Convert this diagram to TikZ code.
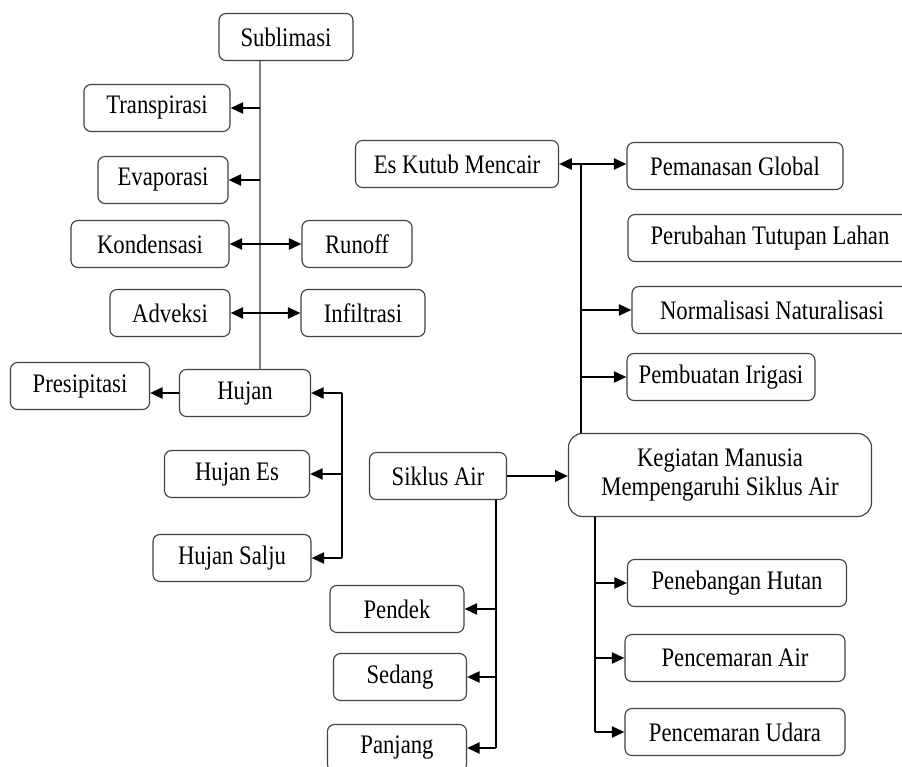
\documentclass[tikz,border=0pt]{standalone}
\usepackage{fontspec}
\setmainfont[FakeStretch=0.85]{Liberation Serif}
\usetikzlibrary{arrows.meta}

\begin{document}
\begin{tikzpicture}[x=0.025cm,y=-0.025cm,
    box/.style={draw=black!75,line width=0.8pt,rounded corners=5pt,minimum height=1.175cm,
      inner sep=0pt,font=\fontsize{19}{21}\selectfont},
    link/.style={line width=1.4pt},
    >={Triangle[length=9pt,width=8pt]}]
      \useasboundingbox (0,0) rectangle (902,767);

      \node[box,minimum width=3.35cm] (sub) at (286,37) {Sublimasi};
      \node[box,minimum width=3.65cm] (trans) at (157,108) {Transpirasi};
      \node[box,minimum width=3.25cm] (evap) at (163,180) {Evaporasi};
      \node[box,minimum width=3.95cm] (kond) at (150,244) {Kondensasi};
      \node[box,minimum width=2.75cm] (runoff) at (357,244) {Runoff};
      \node[box,minimum width=3cm] (adv) at (170,313) {Adveksi};
      \node[box,minimum width=3.1cm] (infil) at (363,313) {Infiltrasi};
      \node[box,minimum width=3.475cm] (pres) at (80,386) {Presipitasi};
      \node[box,minimum width=3.275cm] (hujan) at (245,393) {Hujan};
      \node[box,minimum width=3.625cm] (hujanes) at (237,474) {Hujan Es};
      \node[box,minimum width=3.95cm] (salju) at (232,558) {Hujan Salju};

      \node[box,minimum width=3.425cm] (siklus) at (438,476) {Siklus Air};
      \node[box,minimum width=3.35cm] (pendek) at (397,609) {Pendek};
      \node[box,minimum width=3.325cm] (sedang) at (400,677) {Sedang};
      \node[box,minimum width=3.475cm] (panjang) at (397,748) {Panjang};

      \node[box,minimum width=7.575cm,minimum height=2.075cm,rounded corners=10pt,align=center] (keg) at (720,475)
        {Kegiatan Manusia\\Mempengaruhi Siklus Air};

      \node[box,minimum width=5.075cm] (es) at (457,164) {Es Kutub Mencair};
      \node[box,minimum width=5.4cm] (panas) at (735,166) {Pemanasan Global};
      \node[box,minimum width=7.1cm] (tutup) at (770,238) {Perubahan Tutupan Lahan};
      \node[box,minimum width=7cm] (normal) at (772,310) {Normalisasi Naturalisasi};
      \node[box,minimum width=4.7cm] (irigasi) at (721,377) {Pembuatan Irigasi};

      \node[box,minimum width=5.475cm] (tebang) at (737,583) {Penebangan Hutan};
      \node[box,minimum width=5.5cm] (air) at (735,658) {Pencemaran Air};
      \node[box,minimum width=5.5cm] (udara) at (735,732) {Pencemaran Udara};

      % proses siklus
      \coordinate (t1) at (260,0);
      \draw[gray,line width=1pt] (sub.south -| t1) -- (hujan.north -| t1);
      \draw[link,->] (trans -| t1) -- (trans.east);
      \draw[link,->] (evap -| t1) -- (evap.east);
      \draw[link,<->] (kond.east) -- (kond.east -| runoff.west);
      \draw[link,<->] (adv.east) -- (adv.east -| infil.west);
      \draw[link,->] (hujan.west) -- (hujan.west -| pres.east);

      % jenis hujan
      \coordinate (t2) at (342,0);
      \draw[link] (hujan.east -| t2) -- (salju.east -| t2);
      \draw[link,->] (hujan.east -| t2) -- (hujan.east);
      \draw[link,->] (hujanes.east -| t2) -- (hujanes.east);
      \draw[link,->] (salju.east -| t2) -- (salju.east);

      % siklus air
      \draw[link,->] (siklus.east) -- (siklus.east -| keg.west);
      \coordinate (t3) at (496,0);
      \draw[link] (siklus.south -| t3) -- (panjang.east -| t3);
      \draw[link,->] (pendek.east -| t3) -- (pendek.east);
      \draw[link,->] (sedang.east -| t3) -- (sedang.east);
      \draw[link,->] (panjang.east -| t3) -- (panjang.east);

      % kegiatan manusia
      \coordinate (t4) at (581,0);
      \draw[link] (es.east -| t4) -- (keg.north -| t4);
      \draw[link,->] (es.east -| t4) -- (es.east);
      \draw[link,->] (es.east -| t4) -- (es.east -| panas.west);
      \draw[link,->] (normal.west -| t4) -- (normal.west);
      \draw[link,->] (irigasi.west -| t4) -- (irigasi.west);

      \coordinate (t5) at (595,0);
      \draw[link] (keg.south -| t5) -- (udara.west -| t5);
      \draw[link,->] (tebang.west -| t5) -- (tebang.west);
      \draw[link,->] (air.west -| t5) -- (air.west);
      \draw[link,->] (udara.west -| t5) -- (udara.west);
    \end{tikzpicture}
\end{document}
